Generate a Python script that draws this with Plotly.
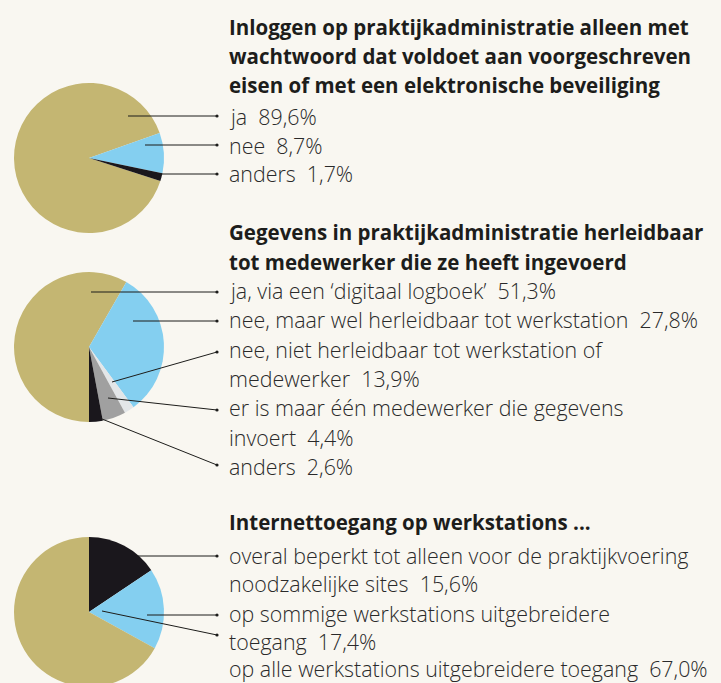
import plotly.graph_objects as go

W, H = 721, 688

BG = "#F9F7F1"
KHAKI = "#C4B672"
BLUE = "#84CFF0"
BLACK = "#1A171C"
GREY = "#A0A0A0"
LIGHT = "#E3E6E8"
TXT = "#1D1D1B"

# ---------- data ----------
pie1_labels = ["ja", "nee", "anders"]
pie1_values = [89.6, 8.7, 1.7]
pie1_colors = [KHAKI, BLUE, BLACK]

pie2_labels = ["ja, via een ‘digitaal logboek’", "nee, maar wel herleidbaar tot werkstation",
               "nee, niet herleidbaar tot werkstation of medewerker",
               "er is maar één medewerker die gegevens invoert", "anders"]
pie2_printed = [51.3, 27.8, 13.9, 4.4, 2.6]
pie2_drawn = [51.3, 27.8, 1.9, 4.4, 2.6]   # slice sizes as drawn in the picture
pie2_colors = [KHAKI, BLUE, LIGHT, GREY, BLACK]

pie3_labels = ["overal beperkt tot alleen voor de praktijkvoering noodzakelijke sites",
               "op sommige werkstations uitgebreidere toegang",
               "op alle werkstations uitgebreidere toegang"]
pie3_values = [15.6, 17.4, 67.0]
pie3_colors = [BLACK, BLUE, KHAKI]

titles = [
    ["Inloggen op praktijkadministratie alleen met",
     "wachtwoord dat voldoet aan voorgeschreven",
     "eisen of met een elektronische beveiliging"],
    ["Gegevens in praktijkadministratie herleidbaar",
     "tot medewerker die ze heeft ingevoerd"],
    ["Internettoegang op werkstations ..."],
]
title_rows = [[27, 56, 85], [232, 262], [522]]

body_lines = [
    ["ja\u00a0 89,6%", "nee\u00a0 8,7%", "anders\u00a0 1,7%"],
    ["ja, via een ‘digitaal logboek’\u00a0 51,3%",
     "nee, maar wel herleidbaar tot werkstation\u00a0 27,8%",
     "nee, niet herleidbaar tot werkstation of",
     "medewerker\u00a0 13,9%",
     "er is maar één medewerker die gegevens",
     "invoert\u00a0 4,4%",
     "anders\u00a0 2,6%"],
    ["overal beperkt tot alleen voor de praktijkvoering",
     "noodzakelijke sites\u00a0 15,6%",
     "op sommige werkstations uitgebreidere",
     "toegang\u00a0 17,4%",
     "op alle werkstations uitgebreidere toegang\u00a0 67,0%"],
]
body_rows = [[117, 145, 173], [290, 319, 349, 378, 407, 437, 466], [555, 583, 613, 641, 668]]

# pie centres / radius (px) and rotations
centres = [(89, 158), (89, 347), (89, 612)]
R = 75
rotations = [107.9, 180, 0]

# leader lines (px): start inside pie -> end near label
leaders = [
    [(128, 116), (217, 116)], [(145, 145), (217, 145)], [(160, 174), (217, 174)],
    [(91, 292), (217, 292)], [(133, 321), (217, 321)], [(112, 382), (217, 352)],
    [(108, 398), (217, 410)], [(102, 419), (217, 465)],
    [(138, 556), (217, 556)], [(147, 615), (217, 615)], [(102, 611), (217, 635)],
]


def px(x):
    return x / W


def py(y):
    return 1 - y / H


fig = go.Figure()
pies = [(pie1_labels, pie1_values, pie1_colors),
        (pie2_labels, pie2_drawn, pie2_colors),
        (pie3_labels, pie3_values, pie3_colors)]
for (labs, vals, cols), (cx, cy), rot in zip(pies, centres, rotations):
    fig.add_trace(go.Pie(
        labels=labs, values=vals, sort=False, direction="clockwise", rotation=rot,
        marker=dict(colors=cols, line=dict(width=0)), textinfo="none",
        hoverinfo="label+percent", showlegend=False,
        domain=dict(x=[px(cx - R), px(cx + R)], y=[max(0, py(cy + R)), py(cy - R)]),
    ))

ann = []
for lines, rows in zip(titles, title_rows):
    for t, y in zip(lines, rows):
        ann.append(dict(text="<b>" + t + "</b>", x=px(227), y=py(y), xref="paper", yref="paper",
                        xanchor="left", yanchor="middle", showarrow=False,
                        font=dict(family="Open Sans", size=20.5, color=TXT)))
for lines, rows in zip(body_lines, body_rows):
    for t, y in zip(lines, rows):
        ann.append(dict(text=t, x=px(227), y=py(y), xref="paper", yref="paper",
                        xanchor="left", yanchor="middle", showarrow=False,
                        font=dict(family="Open Sans", size=21.4, color="#2A2A2A", weight=300)))

shapes = []
for (x0, y0), (x1, y1) in leaders:
    shapes.append(dict(type="line", xref="paper", yref="paper", x0=px(x0), y0=py(y0),
                       x1=px(x1), y1=py(y1), line=dict(color=TXT, width=1)))
    shapes.append(dict(type="circle", xref="paper", yref="paper",
                       x0=px(x1 - 1.6), x1=px(x1 + 1.6), y0=py(y1 + 1.6), y1=py(y1 - 1.6),
                       fillcolor=TXT, line=dict(width=0)))

fig.update_layout(width=W, height=H, margin=dict(l=0, r=0, t=0, b=0),
                  paper_bgcolor=BG, plot_bgcolor=BG, annotations=ann, shapes=shapes)

fig.write_html("out.html",
               post_script="document.documentElement.style.overflow='hidden';document.body.style.overflow='hidden';")
